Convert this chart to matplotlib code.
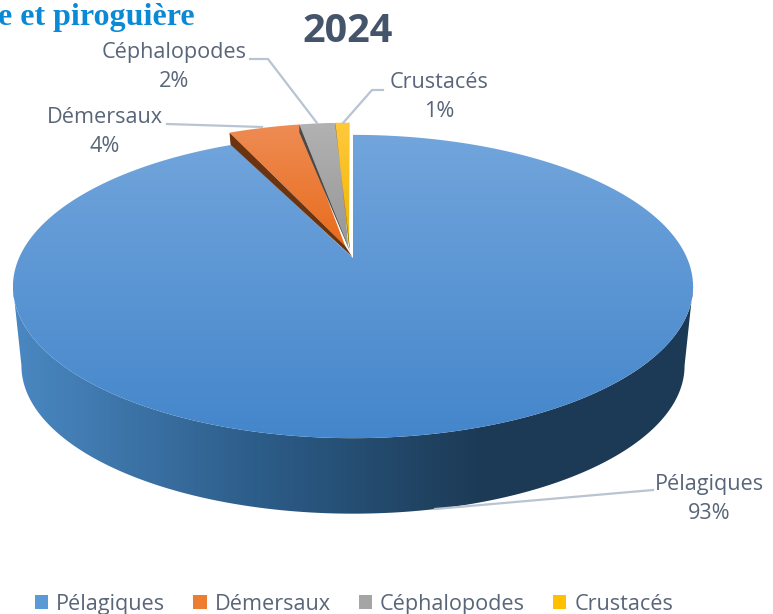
import numpy as np
import matplotlib
matplotlib.use("Agg")
import matplotlib.pyplot as plt
from matplotlib.patches import Polygon, Patch
from matplotlib.colors import LinearSegmentedColormap as LSC

categories = ["Pélagiques", "Démersaux", "Céphalopodes", "Crustacés"]
values = [93, 4, 2, 1]            # labels shown on the chart
shares = [93.0, 4.0, 2.2, 0.8]    # slice sizes
title = "2024"
clipped_heading = "e et piroguière"
top_colors = [("#72a5dc", "#4486cb"), ("#ee8c54", "#e96c1c"), ("#b2b2b2", "#979797"), ("#ffc93c", "#f0b400")]
legend_colors = ["#5b9bd5", "#ed7d31", "#a5a5a5", "#ffc000"]
wall_stops = [(0, "#4a88c2"), (0.365, "#2c5c88"), (0.69, "#1c3a55"), (1, "#1c3a55")]
slice_sides = [None, "#6b3310", "#4a4a4a", "#7a5c00"]
slice_side_shift = [None, (1, 12), (0, 8), (0, 3)]
apex_side_shift = [None, (7, 11), (2, 6), (1, 3)]
slice_x_offset = [0.0, 0.0, 0.0, -0.012]
apex_x_offset = [0.0, -0.024, -0.015, 0.0]
label_color = "#596579"
leader_color = "#b8c4d2"
label_anchor = [(709, 499), (105, 132), (174, 67), (439, 97)]
leader_points = [[(653, 490), (630, 492), (435, 509)],
                 [(167, 124), (262, 127)],
                 [(250, 59), (268, 59), (317, 123)],
                 [(383, 90), (372, 90), (343, 123)]]

# perspective model of the disc
CX, CY, SX, CY_SCALE, K = 353, 258, 334, 146.3, 0.188
def project(u, v, drop=0.0, scale=1.0):
    d = 1 + K * v
    return CX + SX * scale * u / d, CY + drop - CY_SCALE * scale * v / d

def pt(theta_deg, r=1.0):
    t = np.radians(theta_deg)
    return r * np.sin(t), r * np.cos(t)

fig = plt.figure(figsize=(7.73, 6.14), dpi=100)
ax = fig.add_axes([0, 0, 1, 1])
ax.set_xlim(0, 773); ax.set_ylim(614, 0); ax.axis("off")
F = "Open Sans"

def grad(poly_xy, colors, horizontal, z):
    poly = Polygon(poly_xy, closed=True, fc="none", ec="none", transform=ax.transData)
    ax.add_patch(poly)
    xs, ys = poly_xy[:, 0], poly_xy[:, 1]
    g = np.linspace(0, 1, 256)
    g = g[None, :] if horizontal else g[:, None]
    im = ax.imshow(g, extent=(xs.min(), xs.max(), ys.max(), ys.min()), aspect="auto",
                   cmap=LSC.from_list("g", colors), zorder=z, interpolation="bilinear")
    im.set_clip_path(poly)
    ax.set_xlim(0, 773); ax.set_ylim(614, 0)

edges = 360 * np.concatenate([[0], np.cumsum(shares)]) / sum(shares)

# outer wall of the large slice: front half between the disc's widest points
th = np.linspace(0, 180, 721)
widest = th[np.argmax(project(*pt(th))[0])]
tu, tv = pt(np.linspace(widest, 360 - widest, 500))
x1, y1 = project(tu, tv)
x2, y2 = project(tu, tv, drop=80, scale=0.975)
wall = np.column_stack([np.r_[x1, x2[::-1]], np.r_[y1, y2[::-1]]])
grad(wall, wall_stops, True, 1)

for i, cat in enumerate(categories):
    ang = np.linspace(edges[i], edges[i + 1], 240)
    if i == 0:
        u, v = pt(ang)
        ou, ov = 0.0, 0.0
    else:
        u, v = pt(ang, 1.035)
        ou, ov = slice_x_offset[i], 0.085
    px, py = project(np.r_[ou + apex_x_offset[i], u + ou], np.r_[ov, v + ov])
    xy = np.column_stack([px, py])
    grad(xy, top_colors[i], False, 3)
    if slice_sides[i]:
        ax.add_patch(Polygon(np.array([xy[0], xy[1], xy[1] + slice_side_shift[i], xy[0] + apex_side_shift[i]]),
                             closed=True, fc=slice_sides[i], ec="none", zorder=3.5))

for pts in leader_points:
    p = np.array(pts)
    ax.plot(p[:, 0], p[:, 1], color=leader_color, lw=1.6, zorder=4, solid_joinstyle="round")

for (x, y), c, val in zip(label_anchor, categories, values):
    ax.text(x, y, f"{c}\n{val}%", ha="center", va="center", fontsize=15.6, family=F,
            color=label_color, linespacing=1.5, zorder=5)

ax.text(348, 32, title, ha="center", va="center", fontsize=28.5, fontweight="bold",
        family=F, color="#44546a")
ax.text(-2, 17, clipped_heading, ha="left", va="center", fontsize=23, fontweight="bold",
        family="Liberation Serif", color="#0a8ad6")

handles = [Patch(fc=c, ec="none", label=n) for c, n in zip(legend_colors, categories)]
ax.legend(handles=handles, ncols=4, frameon=False, loc="lower center", bbox_to_anchor=(354, 614),
          bbox_transform=ax.transData, prop={"family": F, "size": 15.6}, labelcolor=label_color,
          handlelength=0.62, handleheight=0.62, handletextpad=0.37, columnspacing=1.29,
          borderpad=0, borderaxespad=-0.05)

fig.savefig("out.png", dpi=100)
